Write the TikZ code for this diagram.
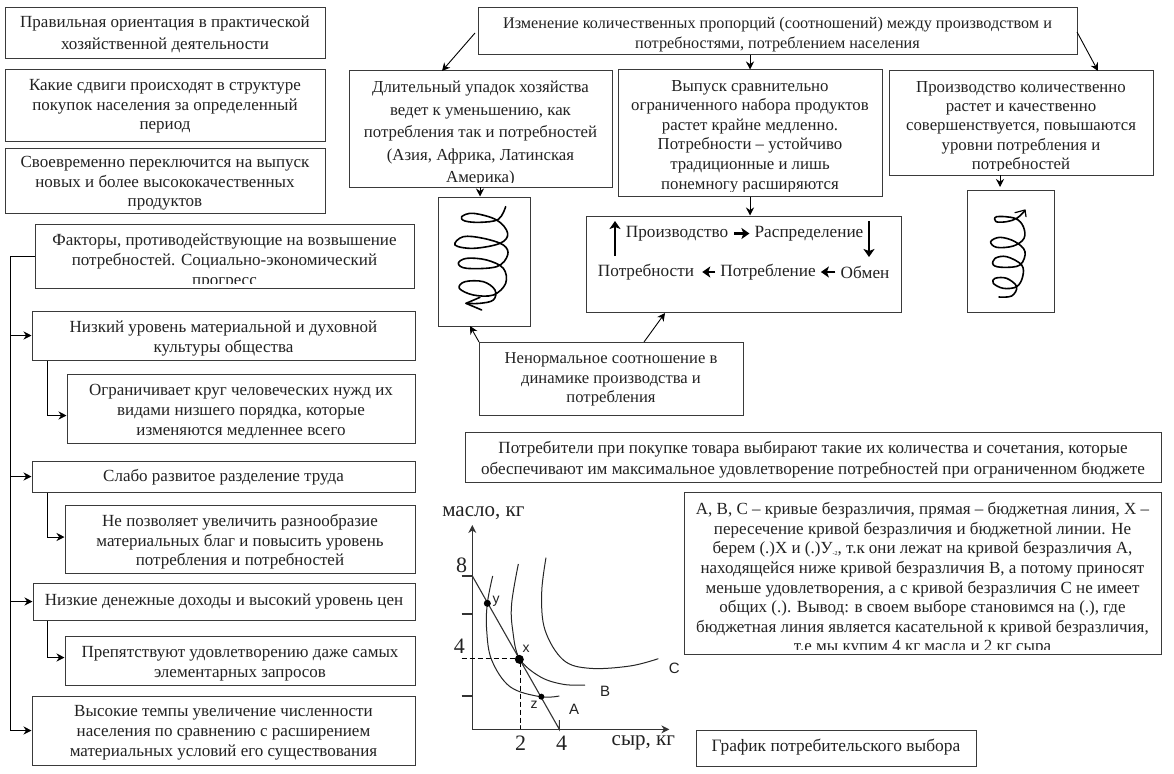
\documentclass[tikz,border=0pt]{standalone}
\usepackage{fontspec}
\setmainfont{Liberation Serif}
\newfontfamily\labfont{Liberation Sans}
\usetikzlibrary{arrows.meta,calc}
\definecolor{ink}{HTML}{222222}
\definecolor{edge}{HTML}{3A3A3A}
\def\fsz{17}
\def\ty{0}
\tikzset{
  bxbase/.style={draw=edge,line width=1pt,inner sep=0pt},
  bxfont/.style={font=\fontsize{\fsz}{#1}\selectfont},
  cliptext/.style={draw=none,inner sep=0pt,align=center,text=ink,minimum width=0pt,minimum height=0pt},
  conn/.style={draw=black,line width=.9pt,-{Stealth[length=8pt,width=8pt]}},
  bold/.style={draw=black,line width=2.4pt,-{Stealth[length=8pt,width=11pt,inset=2pt]}},
  spiral/.style={draw=black,line width=1.6pt,line join=round,line cap=round},
  curve/.style={draw=black!85,line width=1pt},
  axis/.style={draw=black!80,line width=1.1pt},
  dashline/.style={draw=black,line width=1pt,dash pattern=on 5pt off 3pt},
  dot/.style={circle,fill=black,inner sep=0pt,minimum size=#1},
  glabel/.style={inner sep=0pt,text=ink,font=\fontsize{#1}{#1}\selectfont},
  slabel/.style={inner sep=0pt,text=ink,font=\labfont\fontsize{#1}{#1}\selectfont},
}
% [baseline]{name}{x1}{y1}{x2}{y2}{text}; \ty moves the text down
\newcommand\tbx[7][20]{%
  \node[bxbase,minimum width={(#5-#3)*1pt},minimum height={(#6-#4)*1pt}]
    (#2) at ({(#3+#5)/2},{(#4+#6)/2}) {};
  \node[cliptext,bxfont=#1] (#2-text) at ([yshift=-\ty pt]#2.center) {#7};
}
% clipped box: [baseline]{name}{x1}{y1}{x2}{y2}{offset}{text}
\newcommand\cbx[8][20]{%
  \node[bxbase,minimum width={(#5-#3)*1pt},minimum height={(#6-#4)*1pt},
    path picture={\clip (path picture bounding box.north west) rectangle ([yshift=5pt]path picture bounding box.south east);
      \node[cliptext,bxfont=#1,anchor=north] (#2-text) at ([yshift=-#7pt]path picture bounding box.north) {#8};}]
    (#2) at ({(#3+#5)/2},{(#4+#6)/2}) {};
}
\begin{document}
\begin{tikzpicture}[x=1pt,y=-1pt]
\useasboundingbox (0,0) rectangle (1174,773);
\fill[white] (0,0) rectangle (1174,773);

% left column
\def\ty{1}
\tbx[22]{pravo}{5}{8}{325}{59}{Правильная ориентация в практической\\хозяйственной деятельности}
\tbx[19.6]{sdvig}{5}{70}{325}{141}{Какие сдвиги происходят в структуре\\покупок населения за определенный\\период}
\def\ty{3}
\tbx[19.6]{pereq}{5}{148}{325}{213}{Своевременно переключится на выпуск\\новых и более высококачественных\\продуктов}
\cbx[19.8]{fact}{35}{224}{414}{288}{9.5}{Факторы, противодействующие на возвышение\\потребностей. Социально-экономический\\прогресс}
\tbx[20]{nizk}{32}{311}{415}{360}{Низкий уровень материальной и духовной\\культуры общества}
\tbx[19.6]{ogr}{67}{374}{415}{443}{Ограничивает круг человеческих нужд их\\видами низшего порядка, которые\\изменяются медленнее всего}
\def\ty{1}
\tbx{slab}{32}{461}{415}{492}{Слабо развитое разделение труда}
\def\ty{3}
\tbx[19.6]{nepoz}{65}{505}{415}{573}{Не позволяет увеличить разнообразие\\материальных благ и повысить уровень\\потребления и потребностей}
\def\ty{0}
\tbx{dohod}{33}{583}{415}{620}{Низкие денежные доходы и высокий уровень цен}
\def\ty{3}
\tbx[20]{prep}{65}{636}{415}{685}{Препятствуют удовлетворению даже самых\\элементарных запросов}
\def\ty{2.5}
\tbx[20]{vys}{32}{696}{415}{765}{Высокие темпы увеличение численности\\населения по сравнению с расширением\\материальных условий его существования}

\coordinate (trunk) at (10,300);
\coordinate (branch) at (47,300);
\coordinate (ogrin) at ([yshift=-7pt]ogr.west);
\coordinate (nepin) at ([yshift=2pt]nepoz.west);
\coordinate (prepin) at ([yshift=3pt]prep.west);
\draw[conn] (fact.west) -- (fact.west -| trunk) -- (trunk |- vys.west) -- (vys.west);
\draw[conn] (trunk |- nizk.west) -- (nizk.west);
\draw[conn] (trunk |- slab.west) -- (slab.west);
\draw[conn] (trunk |- dohod.west) -- (dohod.west);
\draw[conn] (nizk.south -| branch) -- (branch |- ogrin) -- (ogrin);
\draw[conn] (slab.south -| branch) -- (branch |- nepin) -- (nepin);
\draw[conn] (dohod.south -| branch) -- (branch |- prepin) -- (prepin);

% top block
\def\fsz{16.2}
\def\ty{3}
\tbx[20]{izm}{478}{8}{1077}{55}{Изменение количественных пропорций (соотношений) между производством и\\потребностями, потреблением населения}
\def\fsz{16.8}
\cbx[22.5]{upad}{349}{71}{612}{187}{9.5}{Длительный упадок хозяйства\\ведет к уменьшению, как\\потребления так и потребностей\\(Азия, Африка, Латинская\\Америка)}
\cbx[19.6]{vyp}{618}{70}{882}{196}{9.5}{Выпуск сравнительно\\ограниченного набора продуктов\\растет крайне медленно.\\Потребности – устойчиво\\традиционные и лишь\\понемногу расширяются}
\cbx[19.4]{prk}{889}{71}{1153}{175}{9.5}{Производство количественно\\растет и качественно\\совершенствуется, повышаются\\уровни потребления и\\потребностей}
\tbx{sp1}{438}{197}{530}{326}{}
\tbx{sp2}{967}{190}{1054}{312}{}
\tbx{cyc}{586}{216}{901}{312}{}
\def\fsz{16.6}
\def\ty{1}
\tbx[19.6]{nenorm}{479}{342}{743}{415}{Ненормальное соотношение в\\динамике производства и\\потребления}

\coordinate (a1s) at (475,33);
\coordinate (a1e) at (442,71);
\coordinate (a2s) at (1077,32);
\coordinate (a2e) at (1098,71);
\draw[conn] (a1s) -- (a1e);
\draw[conn] (a2s) -- (a2e);
\draw[conn] (izm.south -| vyp.north) -- (vyp.north);
\coordinate (b1) at (480,187);
\draw[conn] (b1) -- (b1 |- sp1.north);
\draw[conn] (vyp.south) -- (vyp.south |- cyc.north);
\coordinate (b3) at (1000,175);
\coordinate (b3e) at (1000,187);
\draw[conn] (b3) -- (b3e);
\coordinate (n1) at (479,342);
\coordinate (n1e) at (470,326);
\draw[conn] (n1) -- (n1e);
\coordinate (n2) at (644,342);
\coordinate (n2e) at (665,313);
\draw[conn] (n2) -- (n2e);

% cycle text
\begin{scope}[every node/.style={inner sep=0pt,text=ink,font=\fontsize{17.2}{18}\selectfont}]
\node (prod) at (677,233.5) {Производство};
\node (rasp) at (809,233.5) {Распределение};
\node (potr) at (646,272) {Потребности};
\node (potl) at (768,272) {Потребление};
\node (obm) at (865,272) {Обмен};
\end{scope}
\draw[bold,shorten <=6pt,shorten >=5pt] (prod.east) -- (rasp.west);
\draw[bold,shorten <=5pt,shorten >=8pt] (potl.west) -- (potr.east);
\draw[bold,shorten <=5pt,shorten >=5pt] (obm.west) -- (potl.east);
\coordinate (u1) at (615,256);
\coordinate (u2) at (615,221);
\coordinate (d1) at (869,221);
\coordinate (d2) at (869,257);
\draw[bold] (u1) -- (u2);
\draw[bold] (d1) -- (d2);

% spirals
\begin{scope}[shift={(340,180)},x=.33333pt,y=-.33333pt]
\draw[spiral] plot[smooth,tension=.6] coordinates {(497,80) (475,118) (420,127) (375,123) (365,110) (400,100) (470,120) (503,160) (480,190) (400,205) (345,195) (370,170) (430,175) (490,195) (503,225) (470,260) (380,265) (355,250) (380,235) (440,240) (490,265) (497,310) (460,345) (400,345) (358,325) (375,305) (430,305) (465,330) (460,360) (420,370) (378,370)};
\draw[spiral] (420,352) -- (378,370) -- (425,390);
\end{scope}
\begin{scope}[shift={(900,170)},x=.33333pt,y=-.33333pt]
\draw[spiral] plot[smooth,tension=.6] coordinates {(297,381) (335,378) (350,350) (320,325) (285,325) (280,340) (310,355) (350,350) (368,320) (365,285) (320,260) (285,265) (280,285) (310,292) (360,285) (375,245) (345,215) (300,202) (272,215) (290,232) (340,228) (372,205) (370,170) (345,145) (290,140) (288,155) (320,155) (350,145) (375,122)};
\draw[spiral,line width=1.2pt] (345,128) -- (375,120) -- (378,140);
\end{scope}

% text blocks
\def\fsz{17.1}
\def\ty{2.5}
\tbx[21]{potreb}{465}{432}{1161}{482}{Потребители при покупке товара выбирают такие их количества и сочетания, которые\\обеспечивают им максимальное удовлетворение потребностей при ограниченном бюджете}
\def\fsz{17}
\cbx[19.6]{vyvod}{684}{492}{1161}{654}{10}{А, В, С – кривые безразличия, прямая – бюджетная линия, Х –\\пересечение кривой безразличия и бюджетной линии. Не\\берем (.)Х и (.)У\raisebox{-2pt}{\fontsize{6}{6}\selectfont -2}, т.к они лежат на кривой безразличия А,\\находящейся ниже кривой безразличия В, а потому приносят\\меньше удовлетворения, а с кривой безразличия С не имеет\\общих (.). Вывод: в своем выборе становимся на (.), где\\бюджетная линия является касательной к кривой безразличия,\\т.е мы купим 4 кг масла и 2 кг сыра}
\def\fsz{17.4}
\def\ty{-1}
\tbx{graf}{696}{730}{976}{766}{График потребительского выбора}

% graph
\begin{scope}[shift={(430,490)},x=.33333pt,y=-.33333pt]
\coordinate (o) at (127,718);
\coordinate (ytop) at (127,105);
\coordinate (xend) at (718,718);
\coordinate (b8) at (127,258);
\coordinate (b4) at (388,718);
\draw[axis,-{Stealth[length=8pt,width=8pt]}] (o) -- (ytop);
\draw[axis,-{Stealth[length=8pt,width=8pt]}] (o) -- (xend);
\draw[axis] (95,258) -- (b8);
\draw[axis] (95,372) -- (127,372);
\draw[axis] (95,618) -- (127,618);
\draw[axis] (b8) -- (b4) -- (388,690);
\draw[axis] (272,718) -- (272,705);
\draw[dashline] (95,505) -- (268,505);
\draw[dashline] (272,515) -- (272,718);
\draw[curve] plot[smooth,tension=.6] coordinates {(188,258) (172,340) (170,420) (185,510) (240,590) (330,620) (388,618)};
\draw[curve] plot[smooth,tension=.6] coordinates {(265,222) (245,340) (248,420) (268,505) (330,560) (400,583) (465,585)};
\draw[curve] plot[smooth,tension=.6] coordinates {(348,203) (335,310) (345,420) (400,510) (480,535) (600,528) (685,506)};
\node[dot=7pt] (py) at (172,340) {};
\node[dot=9pt] (px) at (268,508) {};
\node[dot=6pt] (pz) at (334,620) {};
\node[glabel=21] (lmaslo) at (160,70) {масло, кг};
\node[glabel=21] (lsyr) at (640,757) {сыр, кг};
\node[glabel=22] (l8) at (95,225) {8};
\node[glabel=22] (l4) at (88,470) {4};
\node[glabel=22] (l2) at (272,760) {2};
\node[glabel=22] (l4x) at (395,760) {4};
\node[slabel=14] (ly) at (198,333) {y};
\node[slabel=14] (lx) at (288,475) {x};
\node[slabel=14] (lz) at (312,645) {z};
\node[slabel=15] (lA) at (432,658) {A};
\node[slabel=15] (lB) at (525,605) {B};
\node[slabel=15] (lC) at (733,535) {C};
\end{scope}
\end{tikzpicture}
\end{document}
